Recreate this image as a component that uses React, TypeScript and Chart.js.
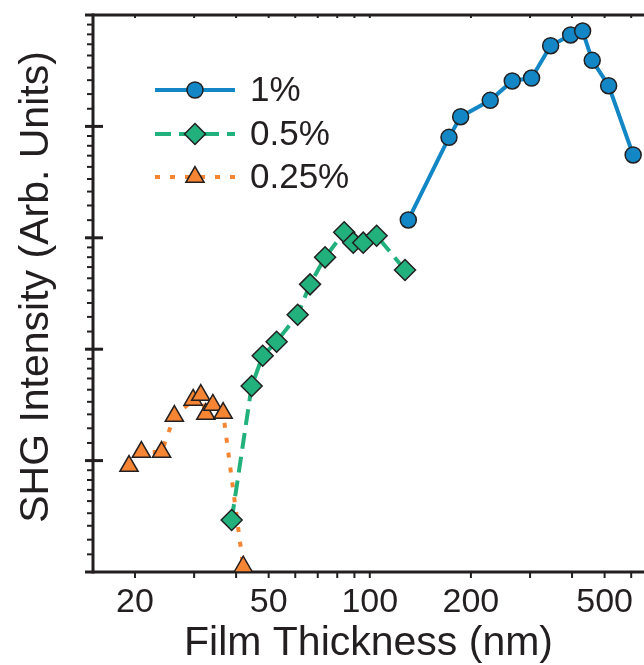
import React, { useEffect, useRef } from 'react';
import { Chart, registerables } from 'chart.js';
import { drawPoint } from 'chart.js/helpers';

Chart.register(...registerables);

const FONT = '"Liberation Sans", Arial, Helvetica, sans-serif';
const INK = '#231f20';
const BLUE = '#1386c6';
const GREEN = '#22b07d';
const ORANGE = '#f58433';

const seriesLabels = ['1%', '0.5%', '0.25%'];
const xTitle = 'Film Thickness (nm)';
const yTitle = 'SHG Intensity (Arb. Units)';

const thickness1 = [130.2, 172.1, 186.4, 228.3, 265.5, 303.1, 345.4, 396.1, 430.0, 459.3, 514.0, 608.1];
const intensity1 = [1445, 7980, 12220, 17140, 25560, 27190, 52970, 66150, 71800, 39190, 23190, 5540];

const thickness05 = [38.8, 44.5, 48.0, 52.8, 61.0, 66.4, 73.6, 83.9, 89.3, 95.6, 104.8, 127.3];
const intensity05 = [2.93, 46.7, 87.4, 116.8, 204, 382, 668, 1120, 904, 904, 1044, 514];

const thickness025 = [19.2, 20.9, 24.0, 26.2, 29.8, 31.4, 32.5, 34.1, 36.6, 42.0];
const intensity025 = [8.94, 11.94, 11.94, 25.1, 35.0, 38.8, 26.2, 31.6, 26.7, 1.116];

const xTickValues = [20, 30, 40, 50, 60, 70, 80, 90, 100, 200, 300, 400, 500, 600];
const xLabelValues = [20, 50, 100, 200, 500];
const yMajorValues = [1, 10, 100, 1000, 10000, 100000];
const yMinorSteps = [1.44, 1.95, 2.6, 3.37, 4.33, 5.46, 6.7, 8.2];

const toPoints = (xs: number[], ys: number[]) => xs.map((x, i) => ({ x, y: ys[i] }));

function strokeLine(ctx: CanvasRenderingContext2D, x1: number, y1: number, x2: number, y2: number) {
  ctx.beginPath();
  ctx.moveTo(x1, y1);
  ctx.lineTo(x2, y2);
  ctx.stroke();
}

const framePlugin = {
  id: 'frame',
  beforeDatasetsDraw(chart: any) {
    const { ctx, chartArea: a, scales } = chart;
    const x = scales.x;
    const y = scales.y;
    ctx.save();
    ctx.strokeStyle = INK;
    ctx.lineCap = 'butt';
    ctx.lineWidth = 3;
    strokeLine(ctx, a.left, a.top - 1.5, a.left, a.bottom + 1.5);
    strokeLine(ctx, a.left - 8, a.top, a.right, a.top);
    strokeLine(ctx, a.left - 8, a.bottom, a.right, a.bottom);
    yMajorValues.forEach((v) => {
      const p = y.getPixelForValue(v);
      if (p > a.top + 2 && p < a.bottom - 2) strokeLine(ctx, a.left - 8, p, a.left + 10, p);
    });
    ctx.lineWidth = 2;
    for (let d = 0; d < yMajorValues.length - 1; d++) {
      yMinorSteps.forEach((m) => {
        const p = y.getPixelForValue(yMajorValues[d] * m);
        strokeLine(ctx, a.left - 6, p, a.left, p);
      });
    }
    xTickValues.forEach((v) => {
      const p = x.getPixelForValue(v);
      strokeLine(ctx, p, a.bottom, p, a.bottom + 6);
      strokeLine(ctx, p, a.top, p, a.top + 3);
    });
    // y axis title
    ctx.fillStyle = INK;
    ctx.font = `41px ${FONT}`;
    ctx.textAlign = 'center';
    ctx.textBaseline = 'middle';
    ctx.translate(37, 287);
    ctx.rotate(-Math.PI / 2);
    ctx.fillText(yTitle, 0, 0);
    ctx.restore();
  },
};

const legendPlugin = {
  id: 'lineLegend',
  afterDatasetsDraw(chart: any) {
    const { ctx } = chart;
    const rowY = [90, 134, 177];
    ctx.save();
    chart.data.datasets.forEach((ds: any, i: number) => {
      const yy = rowY[i];
      ctx.strokeStyle = ds.borderColor;
      ctx.lineWidth = ds.borderWidth;
      ctx.lineCap = 'butt';
      ctx.setLineDash(ds.borderDash || []);
      strokeLine(ctx, 155, yy, 235, yy);
      ctx.setLineDash([]);
      ctx.fillStyle = ds.pointBackgroundColor;
      ctx.strokeStyle = ds.pointBorderColor;
      ctx.lineWidth = ds.pointBorderWidth;
      drawPoint(ctx, { pointStyle: ds.pointStyle, radius: ds.pointRadius, rotation: 0, borderWidth: ds.pointBorderWidth }, 195, yy);
      ctx.fillStyle = INK;
      ctx.font = `35px ${FONT}`;
      ctx.textAlign = 'left';
      ctx.textBaseline = 'middle';
      ctx.fillText(ds.label, 250, yy + 1);
    });
    ctx.restore();
  },
};

export default function App() {
  const canvasRef = useRef<HTMLCanvasElement | null>(null);

  useEffect(() => {
    const canvas = canvasRef.current;
    if (!canvas) return;
    const common = { pointBorderColor: INK, pointBorderWidth: 1.5, borderWidth: 4, clip: false, tension: 0, fill: false };
    const chart = new Chart(canvas, {
      type: 'line',
      data: {
        datasets: [
          {
            ...common,
            label: seriesLabels[0],
            data: toPoints(thickness1, intensity1),
            borderColor: BLUE,
            backgroundColor: BLUE,
            pointBackgroundColor: BLUE,
            pointStyle: 'circle',
            pointRadius: 8,
          },
          {
            ...common,
            label: seriesLabels[1],
            data: toPoints(thickness05, intensity05),
            borderColor: GREEN,
            backgroundColor: GREEN,
            pointBackgroundColor: GREEN,
            borderDash: [16, 8],
            pointStyle: 'rectRot',
            pointRadius: 10.5,
          },
          {
            ...common,
            label: seriesLabels[2],
            data: toPoints(thickness025, intensity025),
            borderColor: ORANGE,
            backgroundColor: ORANGE,
            pointBackgroundColor: ORANGE,
            borderDash: [5, 10],
            pointStyle: 'triangle',
            pointRadius: 10.5,
          },
        ] as any,
      },
      options: {
        animation: false,
        responsive: false,
        maintainAspectRatio: false,
        layout: { autoPadding: false, padding: { top: 15, right: 0, left: 0, bottom: 0 } },
        plugins: { legend: { display: false }, tooltip: { enabled: false } },
        scales: {
          x: {
            type: 'logarithmic',
            position: 'bottom',
            min: 15,
            max: 655,
            afterFit: (s: any) => { s.height = 93; },
            afterBuildTicks: (s: any) => { s.ticks = xTickValues.map((v) => ({ value: v })); },
            grid: { display: false, drawTicks: false },
            border: { display: false },
            ticks: {
              autoSkip: false,
              maxRotation: 0,
              minRotation: 0,
              padding: 10,
              color: INK,
              font: { family: FONT, size: 34 },
              callback: (v: any) => (xLabelValues.includes(Number(v)) ? String(v) : ''),
            },
            title: {
              display: true,
              text: xTitle,
              color: INK,
              font: { family: FONT, size: 41, lineHeight: 1 },
              padding: { top: 0, bottom: 1 },
            },
          },
          y: {
            type: 'logarithmic',
            min: 1,
            max: 100000,
            afterFit: (s: any) => { s.width = 93; },
            grid: { display: false, drawTicks: false },
            border: { display: false },
            ticks: { display: false },
            title: { display: false },
          },
        },
      } as any,
      plugins: [framePlugin, legendPlugin],
    });
    return () => chart.destroy();
  }, []);

  return (
    <div style={{ position: 'absolute', left: 0, top: 0, width: 644, height: 665 }}>
      <canvas ref={canvasRef} width={644} height={665} />
    </div>
  );
}
